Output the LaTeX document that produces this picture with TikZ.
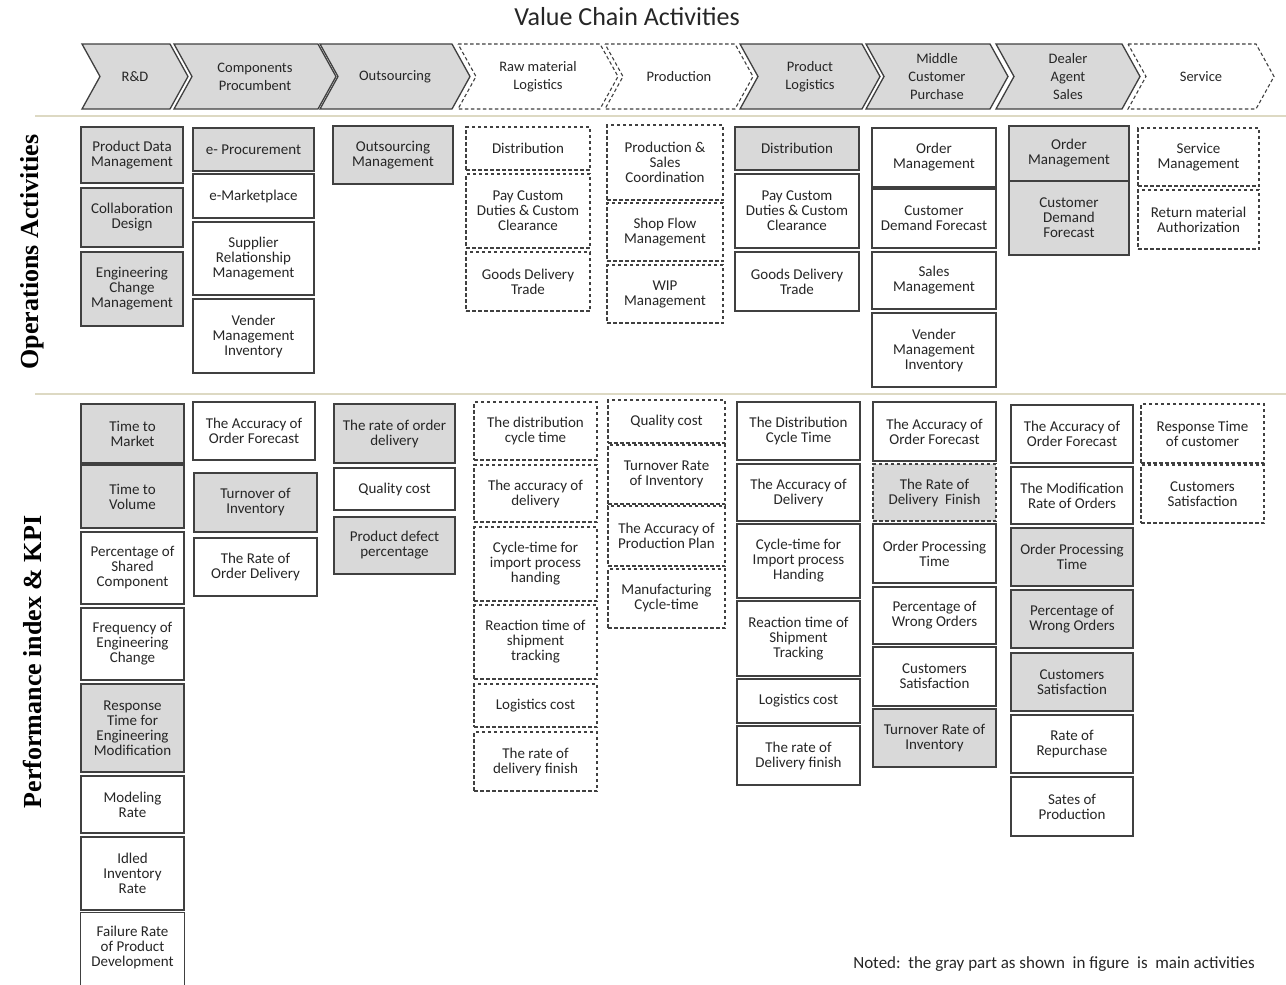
\documentclass[tikz,border=0pt]{standalone}
\usepackage{fontspec}
\setmainfont{Carlito}
\newfontfamily\tnr{Liberation Serif}
\definecolor{boxline}{HTML}{404040}
\definecolor{boxgray}{HTML}{D9D9D9}
\definecolor{txt}{HTML}{262626}
\definecolor{sepline}{HTML}{DDD9C3}
\tikzset{
  box/.style={draw=boxline, line width=1.3pt, fill=white, align=center, inner sep=0pt, text=txt,
    font=\fontsize{15}{15}\selectfont},
  gbox/.style={box, fill=boxgray},
  dbox/.style={box, dash pattern=on 3.5pt off 2.5pt},
  gdbox/.style={dbox, fill=boxgray},
  chevg/.style={draw=boxline, line width=1.3pt, fill=boxgray, line join=miter},
  chevd/.style={draw=boxline, line width=1.1pt, fill=white, dash pattern=on 3.5pt off 2.5pt},
  chevtext/.style={align=center, inner sep=0pt, text=txt, font=\fontsize{14.5}{18}\selectfont},
  sidelabel/.style={rotate=90, inner sep=0pt, text=black, font=\tnr\bfseries\fontsize{26}{30}\selectfont},
}
\newcommand{\bx}[7]{\node[#6, minimum width={(#4-#2)*1pt}, minimum height={(#5-#3)*1pt}] (#1) at ({(#2+#4)/2},{(#3+#5)/2}) {#7};}
\newcommand{\chev}[5]{%
  \draw[#4] (#2,44) -- (#3,44) -- (#3+18,76.5) -- (#3,109) -- (#2,109) -- (#2+18,76.5) -- cycle;
  \node[chevtext] (#1) at ({(#2+#3+18)/2},76.5) {#5};}
\begin{document}
\begin{tikzpicture}[x=1pt,y=-1pt]
\useasboundingbox (0,0) rectangle (1286,985);
\clip (0,0) rectangle (1286,985);
\fill[white] (0,0) rectangle (1286,985);

\node[inner sep=0pt, text=txt, font=\fontsize{26}{30}\selectfont] (title) at (627,17) {Value Chain Activities};

% header chevrons
\chev{h1}{82}{170}{chevg}{R\&D}
\chev{h2}{174}{318}{chevg}{Components\\Procumbent}
\chev{h3}{320}{452}{chevg}{Outsourcing}
\chev{h4}{458}{600}{chevd}{Raw material\\Logistics}
\chev{h5}{605}{735}{chevd}{Production}
\chev{h6}{740}{862}{chevg}{Product\\Logistics}
\chev{h7}{866}{990}{chevg}{Middle\\Customer\\Purchase}
\chev{h8}{996}{1122}{chevg}{Dealer\\Agent\\Sales}
\chev{h9}{1128}{1256}{chevd}{Service}

% separators
\coordinate (s1a) at (35,116); \coordinate (s1b) at (1286,116);
\coordinate (s2a) at (35,394); \coordinate (s2b) at (1286,394);
\draw[sepline, line width=1.3pt] (s1a) -- (s1b);
\draw[sepline, line width=1.3pt] (s2a) -- (s2b);

% side labels
\node[sidelabel] (lops) at (32,252) {Operations Activities};
\node[sidelabel] (lkpi) at (32,662) {Performance index \& KPI};

% Operations activities
\bx{oa1}{81}{127}{183}{183}{gbox}{Product Data\\Management}
\bx{oa2}{81}{188}{183}{247}{gbox}{Collaboration\\Design}
\bx{oa3}{81}{252}{183}{326}{gbox}{Engineering\\Change\\Management}
\bx{ob1}{193}{128}{314}{171}{gbox}{e- Procurement}
\bx{ob2}{193}{174}{314}{218}{box}{e-Marketplace}
\bx{ob3}{193}{222}{314}{295}{box}{Supplier\\Relationship\\Management}
\bx{ob4}{193}{299}{314}{373}{box}{Vender\\Management\\Inventory}
\bx{oc1}{333}{126}{453}{184}{gbox}{Outsourcing\\Management}
\bx{od1}{466}{127}{590}{170}{dbox}{Distribution}
\bx{od2}{466}{174}{590}{248}{dbox}{Pay Custom\\Duties \& Custom\\Clearance}
\bx{od3}{466}{252}{590}{311}{dbox}{Goods Delivery\\Trade}
\bx{oe1}{607}{125}{723}{200}{dbox}{Production \&\\Sales\\Coordination}
\bx{oe2}{607}{203}{723}{261}{dbox}{Shop Flow\\Management}
\bx{oe3}{607}{265}{723}{323}{dbox}{WIP\\Management}
\bx{of1}{735}{127}{859}{170}{gbox}{Distribution}
\bx{of2}{735}{174}{859}{248}{box}{Pay Custom\\Duties \& Custom\\Clearance}
\bx{of3}{735}{252}{859}{311}{box}{Goods Delivery\\Trade}
\bx{og1}{872}{128}{996}{187}{box}{Order\\Management}
\bx{og2}{872}{189}{996}{248}{box}{Customer\\Demand Forecast}
\bx{og3}{872}{252}{996}{309}{box}{Sales\\Management}
\bx{og4}{872}{313}{996}{387}{box}{Vender\\Management\\Inventory}
\bx{oh1}{1009}{126}{1129}{181}{gbox}{Order\\Management}
\bx{oh2}{1009}{181}{1129}{255}{gbox}{Customer\\Demand\\Forecast}
\bx{oi1}{1138}{128}{1259}{186}{dbox}{Service\\Management}
\bx{oi2}{1138}{190}{1259}{249}{dbox}{Return material\\Authorization}

% KPI
\bx{ka1}{81}{404}{184}{463}{gbox}{Time to\\Market}
\bx{ka2}{81}{465}{184}{528}{gbox}{Time to\\Volume}
\bx{ka3}{81}{532}{184}{604}{box}{Percentage of\\Shared\\Component}
\bx{ka4}{81}{608}{184}{680}{box}{Frequency of\\Engineering\\Change}
\bx{ka5}{81}{684}{184}{772}{gbox}{Response\\Time for\\Engineering\\Modification}
\bx{ka6}{81}{776}{184}{833}{box}{Modeling\\Rate}
\bx{ka7}{81}{837}{184}{910}{box}{Idled\\Inventory\\Rate}
\bx{ka8}{81}{913}{184}{981}{box, draw=none}{Failure Rate\\of Product\\Development}
\draw[draw=boxline, line width=1.3pt] ([yshift=-20pt]ka8.south west) -- (ka8.north west) -- (ka8.north east) -- ([yshift=-20pt]ka8.south east);

\bx{kb1}{193}{402}{315}{460}{box}{The Accuracy of\\Order Forecast}
\bx{kb2}{194}{473}{317}{532}{gbox}{Turnover of\\Inventory}
\bx{kb3}{194}{538}{317}{596}{box}{The Rate of\\Order Delivery}
\bx{kc1}{334}{404}{455}{463}{gbox}{The rate of order\\delivery}
\bx{kc2}{334}{468}{455}{510}{box}{Quality cost}
\bx{kc3}{334}{517}{455}{574}{gbox}{Product defect\\percentage}
\bx{kd1}{474}{402}{597}{460}{dbox}{The distribution\\cycle time}
\bx{kd2}{474}{465}{597}{522}{dbox}{The accuracy of\\delivery}
\bx{kd3}{474}{527}{597}{601}{dbox}{Cycle-time for\\import process\\handing}
\bx{kd4}{474}{605}{597}{679}{dbox}{Reaction time of\\shipment\\tracking}
\bx{kd5}{474}{684}{597}{727}{dbox}{Logistics cost}
\bx{kd6}{474}{732}{597}{791}{dbox}{The rate of\\delivery finish}
\bx{ke1}{608}{400}{725}{443}{dbox}{Quality cost}
\bx{ke2}{608}{445}{725}{504}{dbox}{Turnover Rate\\of Inventory}
\bx{ke3}{608}{506}{725}{566}{dbox}{The Accuracy of\\Production Plan}
\bx{ke4}{608}{569}{725}{628}{dbox}{Manufacturing\\Cycle-time}
\bx{kf1}{737}{402}{860}{460}{box}{The Distribution\\Cycle Time}
\bx{kf2}{737}{464}{860}{521}{box}{The Accuracy of\\Delivery}
\bx{kf3}{737}{524}{860}{598}{box}{Cycle-time for\\Import process\\Handing}
\bx{kf4}{737}{601}{860}{676}{box}{Reaction time of\\Shipment\\Tracking}
\bx{kf5}{737}{679}{860}{723}{box}{Logistics cost}
\bx{kf6}{737}{726}{860}{785}{box}{The rate of\\Delivery finish}
\bx{kg1}{873}{402}{996}{461}{box}{The Accuracy of\\Order Forecast}
\bx{kg2}{873}{464}{996}{521}{gdbox}{The Rate of\\Delivery~~Finish}
\bx{kg3}{873}{524}{996}{583}{box}{Order Processing\\Time}
\bx{kg4}{873}{587}{996}{644}{box}{Percentage of\\Wrong Orders}
\bx{kg5}{873}{647}{996}{706}{box}{Customers\\Satisfaction}
\bx{kg6}{873}{709}{996}{767}{gbox}{Turnover Rate of\\Inventory}
\bx{kh1}{1011}{405}{1133}{463}{box}{The Accuracy of\\Order Forecast}
\bx{kh2}{1011}{467}{1133}{524}{box}{The Modification\\Rate of Orders}
\bx{kh3}{1011}{528}{1133}{586}{gbox}{Order Processing\\Time}
\bx{kh4}{1011}{590}{1133}{648}{gbox}{Percentage of\\Wrong Orders}
\bx{kh5}{1011}{653}{1133}{711}{gbox}{Customers\\Satisfaction}
\bx{kh6}{1011}{715}{1133}{773}{box}{Rate of\\Repurchase}
\bx{kh7}{1011}{777}{1133}{836}{box}{Sates of\\Production}
\bx{ki1}{1141}{404}{1264}{463}{dbox}{Response Time\\of customer}
\bx{ki2}{1141}{465}{1264}{523}{dbox}{Customers\\Satisfaction}

\node[inner sep=0pt, text=txt, font=\fontsize{17}{20}\selectfont] (note) at (1054,964) {Noted:\ \ the gray part as shown\ \ in figure\ \ is\ \ main activities};
\end{tikzpicture}
\end{document}
